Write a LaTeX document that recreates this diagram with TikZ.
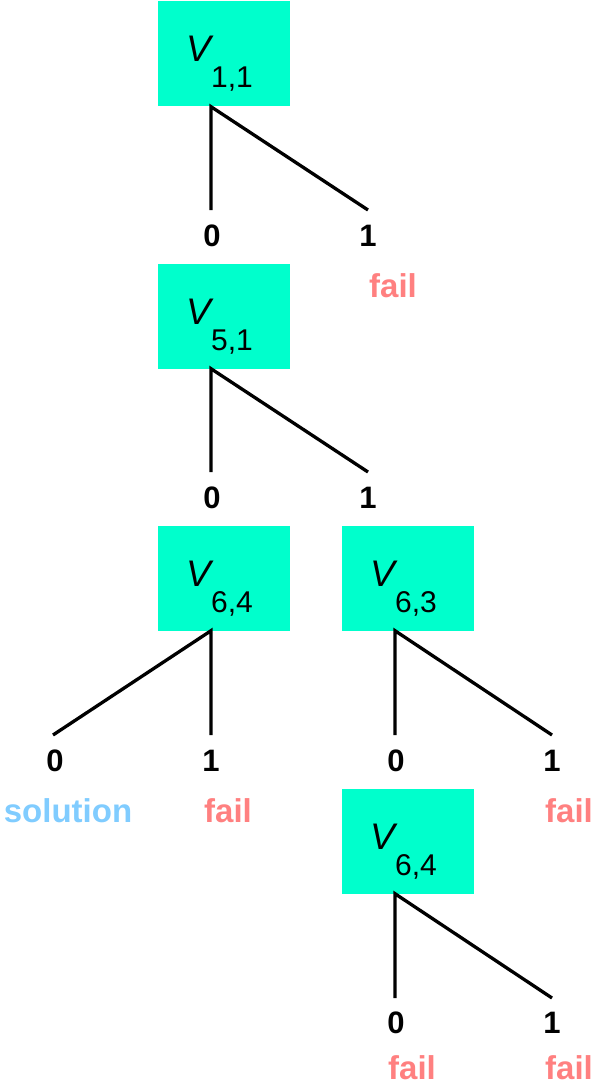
\documentclass[tikz,border=0pt]{standalone}
\usepackage{fontspec}
\setmainfont{Liberation Sans}
\definecolor{boxgreen}{RGB}{0,255,204}
\definecolor{failred}{RGB}{255,128,128}
\definecolor{solblue}{RGB}{128,204,255}
\tikzset{
  vbox/.style={fill=boxgreen, minimum width=132pt, minimum height=105pt, inner sep=0pt},
  vtxt/.style={anchor=base, inner sep=0pt, font=\fontsize{37}{37}\selectfont\itshape},
  vsub/.style={anchor=base, inner sep=0pt, font=\fontsize{30}{30}\selectfont},
  bit/.style={anchor=base, inner sep=0pt, font=\fontsize{31}{31}\selectfont\bfseries},
  fail/.style={anchor=base, inner sep=0pt, text=failred, font=\fontsize{33}{33}\selectfont\bfseries},
  sol/.style={anchor=base, inner sep=0pt, text=solblue, font=\fontsize{33}{33}\selectfont\bfseries},
  edge/.style={line width=3.3pt}
}
\begin{document}
\begin{tikzpicture}[x=1pt, y=-1pt]
\useasboundingbox (0,0) rectangle (606,1086);

\node[vbox](V11) at (224,54) {};
\node[vtxt](V11_v) at (199,62) {V};
\node[vsub](V11_s) at (232,88) {1,1};

\node[vbox](V51) at (224,316) {};
\node[vtxt](V51_v) at (199,324) {V};
\node[vsub](V51_s) at (232,350) {5,1};

\node[vbox](V64a) at (224,578) {};
\node[vtxt](V64a_v) at (199,586) {V};
\node[vsub](V64a_s) at (232,612) {6,4};

\node[vbox](V63) at (408,578) {};
\node[vtxt](V63_v) at (383,586) {V};
\node[vsub](V63_s) at (416,612) {6,3};

\node[vbox](V64b) at (408,841) {};
\node[vtxt](V64b_v) at (383,849) {V};
\node[vsub](V64b_s) at (416,875) {6,4};

% branch ends
\coordinate (V11_0) at (211,210);
\coordinate (V11_1) at (368,210);
\coordinate (V51_0) at (211,472);
\coordinate (V51_1) at (368,472);
\coordinate (V64a_0) at (53,735);
\coordinate (V64a_1) at (211,735);
\coordinate (V63_0) at (395,735);
\coordinate (V63_1) at (552,735);
\coordinate (V64b_0) at (395,998);
\coordinate (V64b_1) at (552,998);

\draw[edge] (V11_0) -- ([xshift=-13pt]V11.south) -- (V11_1);
\node[bit](V11_l0) at (212,246) {0};
\node[bit](V11_l1) at (368,246) {1};
\node[fail](V11_f1) at (393,297) {fail};

\draw[edge] (V51_0) -- ([xshift=-13pt]V51.south) -- (V51_1);
\node[bit](V51_l0) at (212,508) {0};
\node[bit](V51_l1) at (368,508) {1};

\draw[edge] (V64a_0) -- ([xshift=-13pt]V64a.south) -- (V64a_1);
\node[bit](V64a_l0) at (55,771) {0};
\node[bit](V64a_l1) at (211,771) {1};
\node[sol](V64a_s0) at (68,822) {solution};
\node[fail](V64a_f1) at (228,822) {fail};

\draw[edge] (V63_0) -- ([xshift=-13pt]V63.south) -- (V63_1);
\node[bit](V63_l0) at (396,771) {0};
\node[bit](V63_l1) at (552,771) {1};
\node[fail](V63_f1) at (569,822) {fail};

\draw[edge] (V64b_0) -- ([xshift=-13pt]V64b.south) -- (V64b_1);
\node[bit](V64b_l0) at (396,1033) {0};
\node[bit](V64b_l1) at (552,1033) {1};
\node[fail](V64b_f0) at (412,1079) {fail};
\node[fail](V64b_f1) at (569,1079) {fail};

\end{tikzpicture}
\end{document}
